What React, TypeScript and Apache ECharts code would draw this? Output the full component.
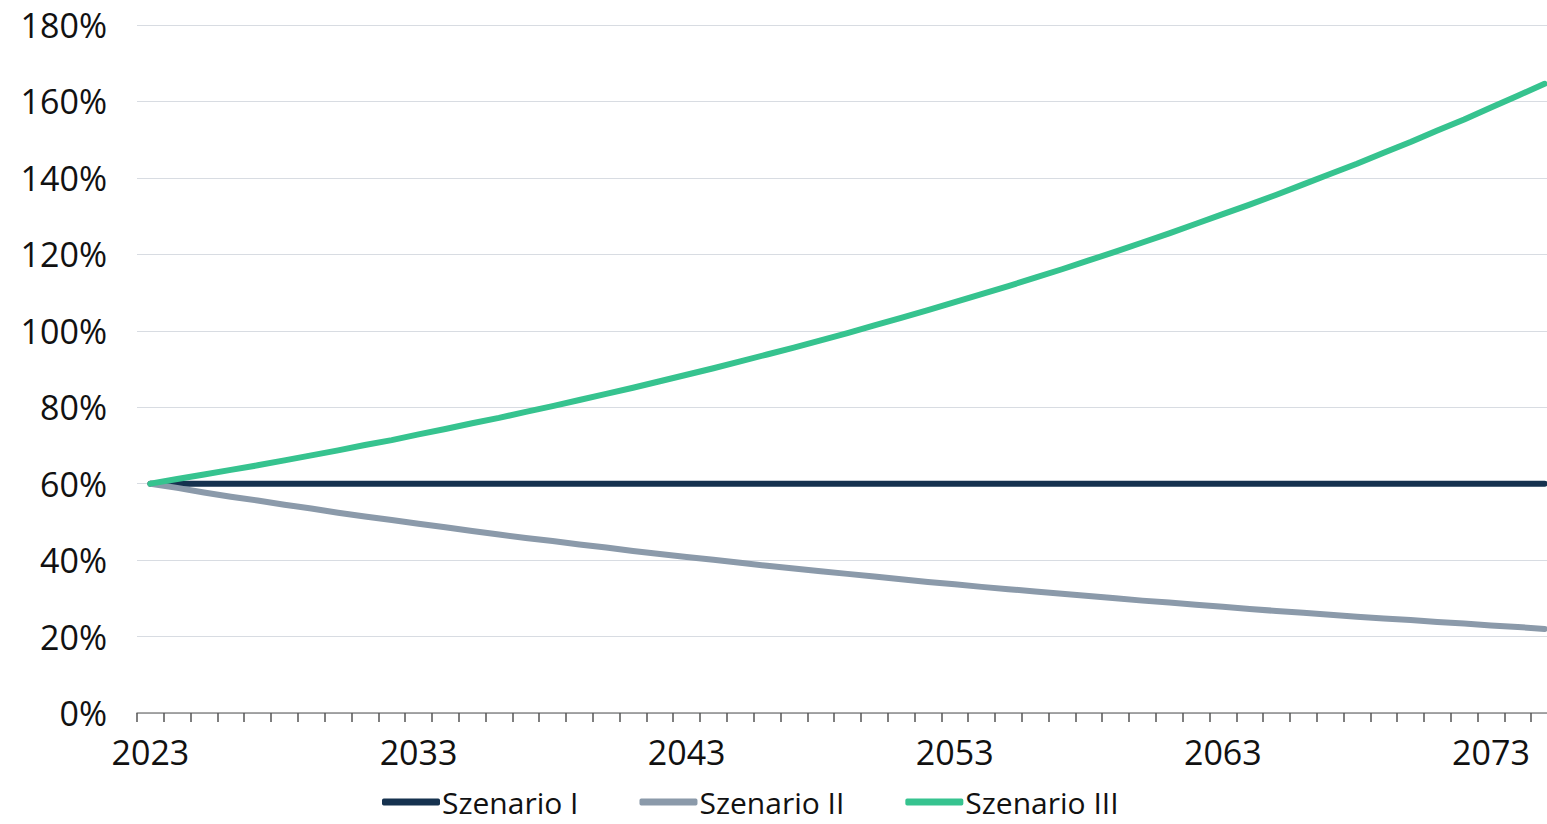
import React, { useEffect, useRef } from "react";
import * as echarts from "echarts";

const years: string[] = [];
for (let y = 2023; y <= 2075; y++) years.push(String(y));

const seriesNames = ["Szenario I", "Szenario II", "Szenario III"];

const szenarioI = [
  60, 60, 60, 60, 60, 60, 60, 60, 60, 60,
  60, 60, 60, 60, 60, 60, 60, 60, 60, 60,
  60, 60, 60, 60, 60, 60, 60, 60, 60, 60,
  60, 60, 60, 60, 60, 60, 60, 60, 60, 60,
  60, 60, 60, 60, 60, 60, 60, 60, 60, 60,
  60, 60, 60,
];

const szenarioII = [
  60.0, 58.9, 57.7, 56.6, 55.6, 54.5, 53.5, 52.4, 51.4, 50.5,
  49.5, 48.6, 47.6, 46.7, 45.8, 45.0, 44.1, 43.3, 42.4, 41.6,
  40.8, 40.1, 39.3, 38.5, 37.8, 37.1, 36.4, 35.7, 35.0, 34.3,
  33.7, 33.0, 32.4, 31.8, 31.2, 30.6, 30.0, 29.4, 28.9, 28.3,
  27.8, 27.2, 26.7, 26.2, 25.7, 25.2, 24.7, 24.3, 23.8, 23.4,
  22.9, 22.5, 22.0,
];

const szenarioIII = [
  60.0, 61.2, 62.4, 63.6, 64.8, 66.1, 67.4, 68.7, 70.1, 71.4,
  72.9, 74.3, 75.8, 77.2, 78.8, 80.3, 81.9, 83.5, 85.1, 86.8,
  88.5, 90.2, 92.0, 93.8, 95.6, 97.5, 99.4, 101.4, 103.4, 105.4,
  107.5, 109.6, 111.7, 113.9, 116.1, 118.4, 120.7, 123.1, 125.5, 128.0,
  130.5, 133.0, 135.6, 138.3, 141.0, 143.7, 146.6, 149.4, 152.4, 155.3,
  158.4, 161.5, 164.6,
];

const colors = ["#16324f", "#8b9aaa", "#36c38f"];
const FONT = "'Open Sans', 'DejaVu Sans', sans-serif";

export default function App() {
  const ref = useRef<HTMLDivElement>(null);
  useEffect(() => {
    if (!ref.current) return;
    const chart = echarts.init(ref.current, undefined, { renderer: "svg" });
    const data = [szenarioI, szenarioII, szenarioIII];
    chart.setOption({
      animation: false,
      backgroundColor: "#ffffff",
      textStyle: { fontFamily: FONT },
      grid: {
        left: 137,
        top: 25,
        width: 1421,
        height: 688,
        containLabel: false,
        outerBoundsMode: "none",
      },
      legend: {
        data: seriesNames,
        left: 382,
        top: 787,
        padding: 0,
        itemWidth: 58,
        itemHeight: 7,
        itemGap: 61,
        icon: "roundRect",
        textStyle: {
          fontSize: 30,
          lineHeight: 30,
          color: "#111111",
          fontFamily: FONT,
          padding: [0, 0, 0, -3],
        },
      },
      xAxis: {
        type: "category",
        data: years,
        boundaryGap: true,
        axisLine: { show: true, lineStyle: { color: "#8a8a8a", width: 1.5 } },
        axisTick: { show: true, interval: 0, length: 9, lineStyle: { color: "#555555", width: 1.5 } },
        axisLabel: {
          interval: 9,
          fontSize: 34,
          color: "#111111",
          margin: 22,
          fontFamily: FONT,
        },
        splitLine: { show: false },
      },
      yAxis: {
        type: "value",
        min: 0,
        max: 180,
        interval: 20,
        axisLine: { show: false },
        axisTick: { show: false },
        axisLabel: {
          formatter: "{value}%",
          fontSize: 34,
          color: "#111111",
          margin: 30,
          fontFamily: FONT,
        },
        splitLine: { show: true, lineStyle: { color: "#d8dce2", width: 1 } },
      },
      series: seriesNames.map((name, i) => ({
        name,
        type: "line",
        data: data[i],
        showSymbol: false,
        symbol: "none",
        smooth: false,
        color: colors[i],
        lineStyle: { width: 6, color: colors[i], cap: "round", join: "round" },
      })),
    });
    return () => chart.dispose();
  }, []);
  return (
    <div
      ref={ref}
      style={{ position: "fixed", left: 0, top: 0, width: 1547, height: 824 }}
    />
  );
}
